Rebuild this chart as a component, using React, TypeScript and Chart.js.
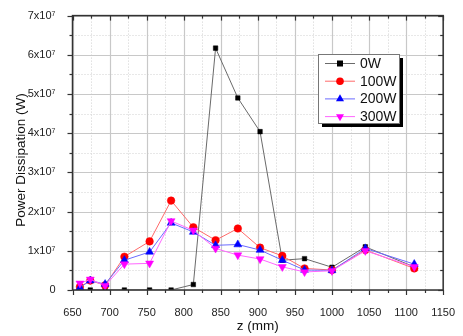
import React, { useEffect, useRef } from "react";
import { Chart, registerables } from "chart.js";

Chart.register(...registerables);

const zValues = [660, 674, 694, 720, 754, 783, 813, 843, 873, 903, 933, 963, 1000, 1045, 1111];
const p0W = [0, 0, 0, 0, 0, 0, 0.14e7, 6.17e7, 4.9e7, 4.04e7, 0.76e7, 0.8e7, 0.58e7, 1.1e7, 0.59e7];
const p100W = [0.08e7, 0.24e7, 0.12e7, 0.85e7, 1.24e7, 2.28e7, 1.6e7, 1.27e7, 1.57e7, 1.08e7, 0.87e7, 0.55e7, 0.51e7, 1.02e7, 0.55e7];
const p200W = [0.06e7, 0.24e7, 0.15e7, 0.76e7, 0.97e7, 1.71e7, 1.48e7, 1.14e7, 1.16e7, 1.02e7, 0.76e7, 0.51e7, 0.5e7, 1.06e7, 0.66e7];
const p300W = [0.17e7, 0.27e7, 0.11e7, 0.66e7, 0.68e7, 1.76e7, 1.52e7, 1.06e7, 0.89e7, 0.79e7, 0.59e7, 0.46e7, 0.49e7, 1.0e7, 0.59e7];
const seriesNames = ["0W", "100W", "200W", "300W"];
const yTickLabels = ["0", "1x10⁷", "2x10⁷", "3x10⁷", "4x10⁷", "5x10⁷", "6x10⁷", "7x10⁷"];
const xTitle = "z (mm)";
const yTitle = "Power Dissipation (W)";

const FONT = "'Liberation Sans', Arial, sans-serif";

const styles = [
  { line: "#6a6a6a", point: "#000000", pointStyle: "rect", radius: 3.2, rotation: 0 },
  { line: "#ff6a6a", point: "#ff0000", pointStyle: "circle", radius: 3.8, rotation: 0 },
  { line: "#6a6aff", point: "#0000ff", pointStyle: "triangle", radius: 4.6, rotation: 0 },
  { line: "#ff66ff", point: "#ff00ff", pointStyle: "triangle", radius: 4.6, rotation: 180 },
];

const framePlugin = {
  id: "framePlugin",
  beforeDatasetsDraw(chart: any) {
    const { ctx, chartArea: a, scales } = chart;
    const x = scales.x;
    const y = scales.y;
    ctx.save();
    ctx.lineWidth = 1;
    // minor grid (dotted)
    ctx.setLineDash([1, 2]);
    ctx.strokeStyle = "#d0d0d0";
    x.ticks.forEach((t: any) => {
      if (t.value % 50 !== 0) {
        const px = Math.round(x.getPixelForValue(t.value)) + 0.5;
        ctx.beginPath(); ctx.moveTo(px, a.top); ctx.lineTo(px, a.bottom); ctx.stroke();
      }
    });
    y.ticks.forEach((t: any) => {
      if (t.value % 1e7 !== 0) {
        const py = Math.round(y.getPixelForValue(t.value)) + 0.5;
        ctx.beginPath(); ctx.moveTo(a.left, py); ctx.lineTo(a.right, py); ctx.stroke();
      }
    });
    // major grid
    ctx.setLineDash([]);
    ctx.strokeStyle = "#c8c8c8";
    ctx.lineWidth = 1.2;
    x.ticks.forEach((t: any) => {
      if (t.value % 50 === 0) {
        const px = Math.round(x.getPixelForValue(t.value)) + 0.5;
        ctx.beginPath(); ctx.moveTo(px, a.top); ctx.lineTo(px, a.bottom); ctx.stroke();
      }
    });
    y.ticks.forEach((t: any) => {
      if (t.value % 1e7 === 0) {
        const py = Math.round(y.getPixelForValue(t.value)) + 0.5;
        ctx.beginPath(); ctx.moveTo(a.left, py); ctx.lineTo(a.right, py); ctx.stroke();
      }
    });
    ctx.restore();
  },
  afterDatasetsDraw(chart: any) {
    const { ctx, chartArea: a, scales } = chart;
    const x = scales.x;
    const y = scales.y;
    ctx.save();
    // frame
    ctx.strokeStyle = "#333333";
    ctx.lineWidth = 1.5;
    ctx.strokeRect(a.left, a.top, a.right - a.left, a.bottom - a.top);
    ctx.lineWidth = 1.2;
    // ticks
    x.ticks.forEach((t: any) => {
      const major = t.value % 50 === 0;
      const len = major ? 5 : 3;
      const px = Math.round(x.getPixelForValue(t.value)) + 0.5;
      ctx.beginPath(); ctx.moveTo(px, a.bottom); ctx.lineTo(px, a.bottom + len); ctx.stroke();
      ctx.beginPath(); ctx.moveTo(px, a.top); ctx.lineTo(px, a.top + len); ctx.stroke();
    });
    y.ticks.forEach((t: any) => {
      const major = t.value % 1e7 === 0;
      const len = major ? 5 : 3;
      const py = Math.round(y.getPixelForValue(t.value)) + 0.5;
      ctx.beginPath(); ctx.moveTo(a.left, py); ctx.lineTo(a.left - len, py); ctx.stroke();
      ctx.beginPath(); ctx.moveTo(a.right, py); ctx.lineTo(a.right - len, py); ctx.stroke();
    });
    // axis titles
    ctx.fillStyle = "#111111";
    ctx.font = `13.5px ${FONT}`;
    ctx.textAlign = "center";
    ctx.textBaseline = "middle";
    ctx.fillText(xTitle, (a.left + a.right) / 2, 326);
    ctx.save();
    ctx.translate(21, 160);
    ctx.rotate(-Math.PI / 2);
    ctx.fillText(yTitle, 0, 0);
    ctx.restore();

    // legend
    const lx = 318, ly = 54, lw = 81, lh = 69;
    ctx.fillStyle = "#000000";
    ctx.fillRect(lx + 4, ly + 4, lw, lh);
    ctx.fillStyle = "#ffffff";
    ctx.fillRect(lx, ly, lw, lh);
    ctx.strokeStyle = "#777777";
    ctx.lineWidth = 1;
    ctx.strokeRect(lx + 0.5, ly + 0.5, lw, lh);
    chart.data.datasets.forEach((ds: any, i: number) => {
      const st = styles[i];
      const ry = ly + 9.5 + i * 17.7;
      ctx.strokeStyle = st.line;
      ctx.lineWidth = 1;
      ctx.beginPath(); ctx.moveTo(lx + 7, ry); ctx.lineTo(lx + 37, ry); ctx.stroke();
      ctx.fillStyle = st.point;
      const cx = lx + 22;
      if (st.pointStyle === "rect") {
        ctx.fillRect(cx - 3, ry - 3, 6, 6);
      } else if (st.pointStyle === "circle") {
        ctx.beginPath(); ctx.arc(cx, ry, 3.8, 0, Math.PI * 2); ctx.fill();
      } else {
        const r = 4.6;
        const dir = st.rotation === 180 ? -1 : 1;
        ctx.beginPath();
        ctx.moveTo(cx, ry - dir * r);
        ctx.lineTo(cx - r * 0.87, ry + dir * r * 0.5);
        ctx.lineTo(cx + r * 0.87, ry + dir * r * 0.5);
        ctx.closePath(); ctx.fill();
      }
      ctx.fillStyle = "#111111";
      ctx.font = `14px ${FONT}`;
      ctx.textAlign = "left";
      ctx.textBaseline = "middle";
      ctx.fillText(ds.label, lx + 42, ry + 0.5);
    });
    ctx.restore();
  },
};

export default function App() {
  const ref = useRef<HTMLCanvasElement | null>(null);
  useEffect(() => {
    if (!ref.current) return;
    const seriesValues = [p0W, p100W, p200W, p300W];
    const chart = new Chart(ref.current, {
      type: "line",
      data: {
        datasets: seriesValues.map((vals, i) => ({
          label: seriesNames[i],
          data: zValues.map((z, j) => ({ x: z, y: vals[j] })),
          borderColor: styles[i].line,
          borderWidth: 1,
          backgroundColor: styles[i].point,
          pointBackgroundColor: styles[i].point,
          pointBorderColor: styles[i].point,
          pointBorderWidth: 0.5,
          pointStyle: styles[i].pointStyle as any,
          pointRotation: styles[i].rotation,
          pointRadius: styles[i].radius,
          tension: 0,
          fill: false,
          order: 4 - i,
        })),
      },
      options: {
        animation: false,
        responsive: false,
        maintainAspectRatio: false,
        layout: { padding: { top: 14, right: 15.5, left: 0, bottom: 0 } },
        plugins: { legend: { display: false }, tooltip: { enabled: false } },
        scales: {
          x: {
            type: "linear",
            min: 650,
            max: 1150,
            grid: { display: false },
            border: { display: false },
            afterFit: (s: any) => { s.height = 46; },
            ticks: {
              stepSize: 25,
              autoSkip: false,
              maxRotation: 0,
              padding: 8,
              color: "#222222",
              font: { family: FONT, size: 11 },
              callback: (v: any) => (Number(v) % 50 === 0 ? String(v) : ""),
            },
          },
          y: {
            type: "linear",
            min: 0,
            max: 7e7,
            grid: { display: false },
            border: { display: false },
            afterFit: (s: any) => { s.width = 72.5; },
            ticks: {
              stepSize: 5e6,
              autoSkip: false,
              padding: 9,
              color: "#222222",
              font: { family: FONT, size: 11 },
              callback: (v: any) => {
                const n = Number(v);
                if (n % 1e7 !== 0) return "";
                return yTickLabels[Math.round(n / 1e7)];
              },
            },
          },
        },
      },
      plugins: [framePlugin],
    });
    return () => chart.destroy();
  }, []);
  return (
    <div style={{ position: "fixed", left: 0, top: 0, width: 463, height: 336, background: "#fff" }}>
      <canvas ref={ref} width={463} height={336} style={{ width: 463, height: 336, display: "block" }} />
    </div>
  );
}
